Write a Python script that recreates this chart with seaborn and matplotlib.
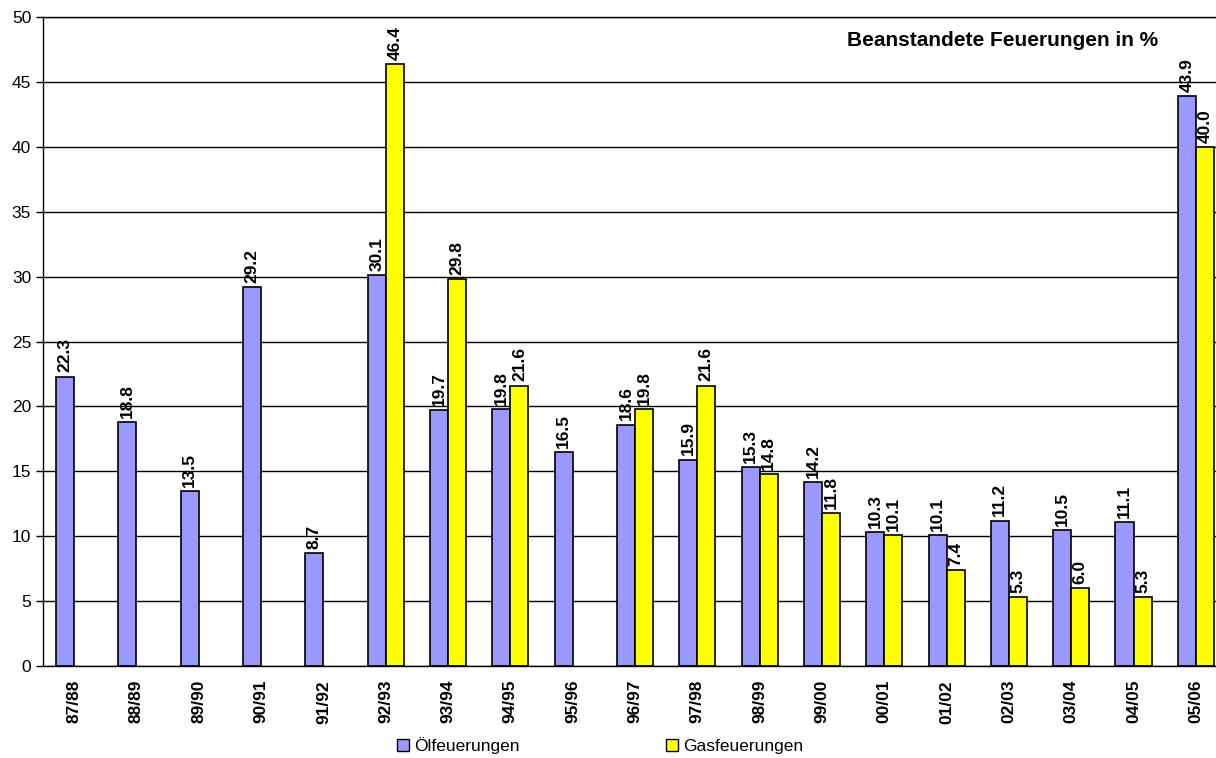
import numpy as np
import pandas as pd
import seaborn as sns
import matplotlib
matplotlib.use("Agg")
import matplotlib.pyplot as plt
from matplotlib.patches import Patch

# Heizperioden
jahre = ['87/88', '88/89', '89/90', '90/91', '91/92', '92/93', '93/94', '94/95', '95/96',
         '96/97', '97/98', '98/99', '99/00', '00/01', '01/02', '02/03', '03/04', '04/05', '05/06']

# Beanstandete Feuerungen in %
oel = [22.3, 18.8, 13.5, 29.2, 8.7, 30.1, 19.7, 19.8, 16.5, 18.6, 15.9, 15.3, 14.2,
       10.3, 10.1, 11.2, 10.5, 11.1, 43.9]
gas = [np.nan, np.nan, np.nan, np.nan, np.nan, 46.4, 29.8, 21.6, np.nan, 19.8, 21.6, 14.8, 11.8,
       10.1, 7.4, 5.3, 6.0, 5.3, 40.0]

serien = ['Ölfeuerungen', 'Gasfeuerungen']
farben = ['#9999FF', '#FFFF00']

df = pd.DataFrame({
    'Jahr': jahre * 2,
    'Art': [serien[0]] * len(jahre) + [serien[1]] * len(jahre),
    'Wert': oel + gas,
}).dropna()

sns.set_style('white')
plt.rcParams['font.family'] = ['Liberation Sans', 'DejaVu Sans']
plt.rcParams['text.color'] = 'black'
plt.rcParams['xtick.color'] = 'black'
plt.rcParams['ytick.color'] = 'black'

fig = plt.figure(figsize=(12.16, 7.58), dpi=100)
# plot area runs past the right edge of the image, like the original
ax = fig.add_axes([43 / 1216, 92 / 758, 1184 / 1216, 649 / 758])

sns.barplot(data=df, x='Jahr', y='Wert', hue='Art', order=jahre, hue_order=serien,
            palette=farben, width=0.58, gap=0, edgecolor='black', linewidth=1.2,
            saturation=1, legend=False, ax=ax)

for cont in ax.containers:
    ax.bar_label(cont, fmt='%.1f', rotation=90, padding=3, fontsize=12.5, fontweight='bold')

ax.set_ylim(0, 50)
ax.set_xlim(-0.5, len(jahre) - 0.5)
ax.set_yticks(np.arange(0, 51, 5))
ax.yaxis.grid(True, color='black', linewidth=1)
ax.set_axisbelow(True)

ax.set_xticks(range(len(jahre)))
ax.set_xticklabels(jahre, rotation=90, fontsize=12.5, fontweight='bold')
ax.set_xticks(np.arange(-0.5, len(jahre), 1), minor=True)
ax.tick_params(axis='x', which='major', length=0, pad=10)
ax.tick_params(axis='x', which='minor', length=5, width=1, color='black', direction='out')
ax.tick_params(axis='y', length=5, width=1, color='black', direction='out', labelsize=12.5, left=True)
ax.set_xlabel('')
ax.set_ylabel('')

for s in ['left', 'bottom', 'top']:
    ax.spines[s].set_color('black')
    ax.spines[s].set_linewidth(1)
ax.spines['right'].set_visible(False)

fig.text(1158 / 1216, 1 - 40 / 758, 'Beanstandete Feuerungen in %', ha='right', va='center',
         fontsize=15, fontweight='bold')

handles = [Patch(facecolor=c, edgecolor='black', linewidth=1) for c in farben]
fig.legend(handles, serien, loc='center', bbox_to_anchor=(600 / 1216, 12 / 758), ncol=2,
           frameon=False, fontsize=12.5, columnspacing=8.4, handlelength=0.7, handleheight=0.7,
           handletextpad=0.3)

fig.savefig('out.png', dpi=100)
